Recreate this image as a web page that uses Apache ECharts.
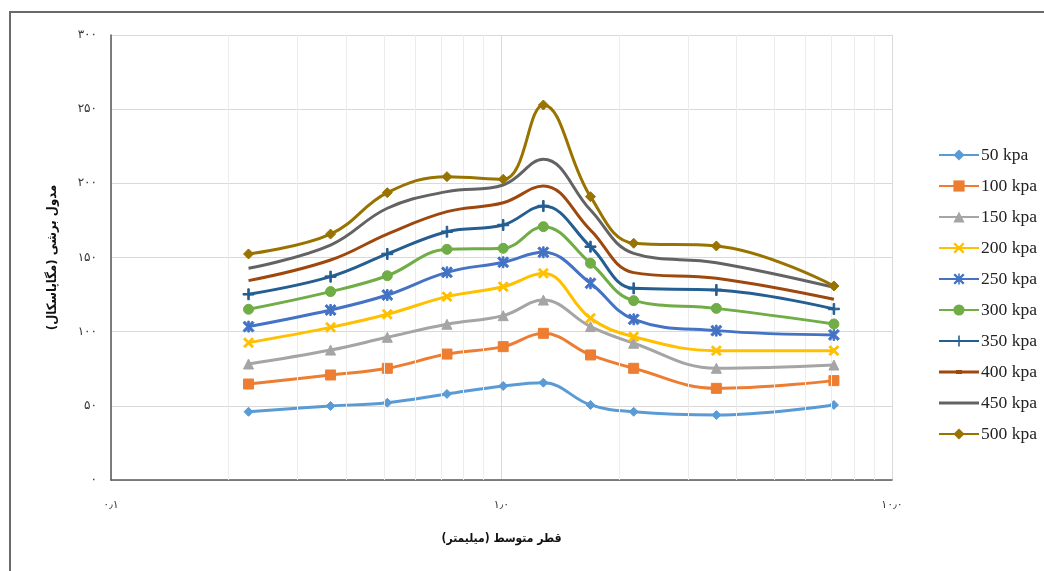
<!DOCTYPE html>
<html>
<head>
<meta charset="utf-8">
<script src="https://cdn.jsdelivr.net/npm/echarts@6/dist/echarts.min.js"></script>
<style>
html,body{margin:0;padding:0;background:#fff;}
#chart{width:1044px;height:571px;}
</style>
</head>
<body>
<div id="chart"></div>
<script>
// ---- data ----
const diameters = [0.225, 0.365, 0.51, 0.725, 1.01, 1.28, 1.69, 2.18, 3.55, 7.1];
const seriesNames = ['50 kpa','100 kpa','150 kpa','200 kpa','250 kpa','300 kpa','350 kpa','400 kpa','450 kpa','500 kpa'];
const s50  = [46.0, 49.9, 52.1, 58.0, 63.4, 65.6, 50.6, 46.0, 43.8, 50.6];
const s100 = [64.7, 70.8, 75.3, 84.9, 89.9, 98.9, 84.3, 75.3, 61.8, 67.0];
const s150 = [78.2, 87.6, 96.2, 105.0, 110.8, 121.3, 103.4, 92.2, 75.3, 77.5];
const s200 = [92.6, 102.9, 111.7, 123.6, 130.3, 139.3, 109.0, 96.6, 87.2, 87.2];
const s250 = [103.4, 114.6, 124.7, 140.0, 146.8, 153.5, 132.6, 108.3, 100.7, 97.8];
const s300 = [115.1, 127.0, 137.7, 155.5, 156.2, 170.8, 146.1, 120.9, 115.7, 105.2];
const s350 = [125.2, 137.1, 152.4, 167.4, 171.9, 184.7, 157.3, 129.2, 128.1, 115.3];
const s400 = [134.4, 148.3, 165.8, 180.9, 186.9, 198.2, 168.5, 139.8, 136.0, 121.8];
const s450 = [142.7, 158.4, 183.2, 194.4, 198.9, 216.2, 182.0, 152.8, 146.5, 129.9];
const s500 = [152.4, 165.8, 193.7, 204.5, 202.7, 252.8, 191.0, 159.6, 157.8, 130.8];
const yTickLabels = ['۰','۵۰','۱۰۰','۱۵۰','۲۰۰','۲۵۰','۳۰۰'];
const xTickValues = [0.1, 1, 10];
const xTickLabels = ['۰٫۱','۱٫۰','۱۰٫۰'];
const minorGridX = [0.2,0.3,0.4,0.5,0.6,0.7,0.8,0.9,2,3,4,5,6,7,8,9];
const yTitle = 'مدول برشی (مگاپاسکال)';
const xTitle = 'قطر متوسط (میلیمتر)';

// ---- styles ----
const allValues = [s50,s100,s150,s200,s250,s300,s350,s400,s450,s500];
const colors = ['#5B9BD5','#ED7D31','#A5A5A5','#FFC000','#4472C4','#70AD47','#255E91','#9E480E','#636363','#997300'];
const P_X = 'path://M1.5,0 L5,3.5 L8.5,0 L10,1.5 L6.5,5 L10,8.5 L8.5,10 L5,6.5 L1.5,10 L0,8.5 L3.5,5 L0,1.5 Z';
const P_AST = 'path://M1.5,0 L5,3.5 L8.5,0 L10,1.5 L6.5,5 L10,8.5 L8.5,10 L5,6.5 L1.5,10 L0,8.5 L3.5,5 L0,1.5 Z M4.3,0 L5.7,0 L5.7,10 L4.3,10 Z';
const P_PLUS = 'path://M4.3,0 L5.7,0 L5.7,4.3 L10,4.3 L10,5.7 L5.7,5.7 L5.7,10 L4.3,10 L4.3,5.7 L0,5.7 L0,4.3 L4.3,4.3 Z';
// legend icon for series without visible markers: plain line in a 40x14 box
const P_LEGEND_LINE = 'path://M0,0 L0.05,0 L0,0.05 Z M40,14 L39.95,14 L40,13.95 Z M0,5.5 L40,5.5 L40,8.5 L0,8.5 Z';
const P_LEGEND_DASH = 'path://M0,0 L0.05,0 L0,0.05 Z M40,14 L39.95,14 L40,13.95 Z M0,5.5 L40,5.5 L40,8.5 L0,8.5 Z M17,5 L23,5 L23,9 L17,9 Z';
const symbols = ['diamond','rect','triangle',P_X,P_AST,'circle',P_PLUS,'none','none','diamond'];
const sizes = [9,10,10,10,11,10,11,0,0,10];

const series = allValues.map((vals,i)=>({
  name: seriesNames[i],
  type: 'line',
  smooth: 0.4,
  data: vals.map((v,j)=>[diameters[j], v]),
  symbol: symbols[i],
  symbolSize: sizes[i],
  showSymbol: symbols[i] !== 'none',
  lineStyle: {width: 3, color: colors[i]},
  itemStyle: {color: colors[i], borderColor: colors[i]},
  z: 3 + i
}));
series.unshift({
  name: '_grid',
  type: 'line',
  data: [],
  silent: true,
  z: 1,
  markLine: {
    silent: true,
    symbol: ['none','none'],
    label: {show: false},
    lineStyle: {color: '#ececec', width: 1, type: 'solid'},
    animation: false,
    data: minorGridX.map(v=>({xAxis: v}))
  }
});

const legendData = seriesNames.map((n,i)=> symbols[i] === 'none'
  ? {name: n, icon: (i === 7 ? P_LEGEND_DASH : P_LEGEND_LINE)}
  : {name: n});

const titleFont = 'DejaVu Sans Condensed, DejaVu Sans';
const chart = echarts.init(document.getElementById('chart'), null, {renderer:'canvas'});
chart.setOption({
  animation: false,
  backgroundColor: '#fff',
  color: colors,
  graphic: [{
    type: 'rect', silent: true, z: 100,
    shape: {x: 10, y: 12, width: 1200, height: 800},
    style: {fill: 'none', stroke: '#6a6a6a', lineWidth: 2}
  }],
  grid: {left: 111, right: 152, top: 35, bottom: 91, containLabel: false},
  legend: {
    orient: 'vertical',
    left: 933,
    top: 141,
    itemWidth: 40,
    itemHeight: 14,
    itemGap: 13,
    data: legendData,
    textStyle: {fontFamily: 'Liberation Serif', fontSize: 17.5, color: '#222', padding: [0,0,0,-3]}
  },
  xAxis: {
    type: 'log',
    logBase: 10,
    min: 0.1,
    max: 10,
    name: xTitle,
    nameLocation: 'middle',
    nameGap: 53,
    nameTextStyle: {fontFamily: titleFont, fontWeight: 'bold', fontSize: 12, color: '#111'},
    axisLine: {show: true, lineStyle: {color: '#595959', width: 1.5}},
    axisTick: {show: false},
    axisLabel: {
      margin: 20,
      fontFamily: 'DejaVu Sans', fontSize: 11, color: '#333',
      formatter: v => { const k = xTickValues.findIndex(t=>Math.abs(Math.log10(t)-Math.log10(v))<1e-6); return k>=0 ? xTickLabels[k] : ''; }
    },
    splitLine: {show: true, lineStyle: {color: '#d9d9d9', width: 1}},
    minorTick: {show: false},
    minorSplitLine: {show: false}
  },
  yAxis: {
    type: 'value',
    min: 0,
    max: 300,
    interval: 50,
    name: yTitle,
    nameLocation: 'middle',
    nameRotate: 90,
    nameGap: 52,
    nameTextStyle: {fontFamily: titleFont, fontWeight: 'bold', fontSize: 13, color: '#111'},
    axisLine: {show: true, lineStyle: {color: '#595959', width: 1.5}},
    axisTick: {show: false},
    axisLabel: {
      margin: 14,
      fontFamily: 'DejaVu Sans', fontSize: 12, color: '#333',
      formatter: v => yTickLabels[Math.round(v/50)] || ''
    },
    splitLine: {show: true, lineStyle: {color: '#d9d9d9', width: 1}}
  },
  series: series
});
</script>
</body>
</html>
